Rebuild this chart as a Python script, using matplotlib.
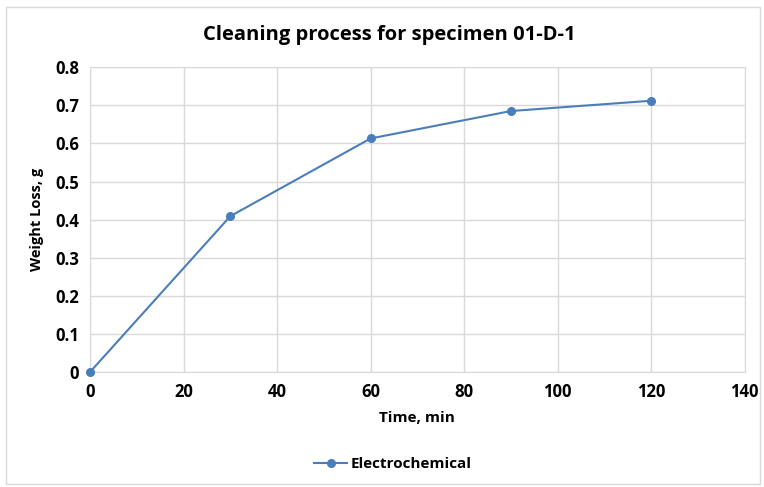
import numpy as np
import matplotlib.pyplot as plt
from matplotlib.patches import Rectangle

plt.rcParams['font.family'] = ['Open Sans', 'DejaVu Sans']
plt.rcParams['font.weight'] = 'bold'

# data
time_min = [0, 30, 60, 90, 120]
weight_loss = [0.0, 0.409, 0.613, 0.685, 0.712]
series_name = "Electrochemical"

fig = plt.figure(figsize=(7.64, 4.87), dpi=100)
ax = fig.add_axes([0.1178, 0.236, 0.857, 0.626])

ax.plot(time_min, weight_loss, color="#4a7ebb", linewidth=1.5,
        marker="o", markersize=5.5, label=series_name, clip_on=False, zorder=3)

ax.set_xlim(0, 140)
ax.set_ylim(0, 0.8)
ax.set_xticks(np.arange(0, 141, 20))
ax.set_yticks(np.arange(0, 0.81, 0.1))
ax.set_yticklabels(["0", "0.1", "0.2", "0.3", "0.4", "0.5", "0.6", "0.7", "0.8"])
ax.grid(True, color="#d9d9d9", linewidth=1)
ax.set_axisbelow(True)
for s in ax.spines.values():
    s.set_color("#d9d9d9")
ax.tick_params(length=0, labelsize=12, pad=8)
for lbl in ax.get_xticklabels() + ax.get_yticklabels():
    lbl.set_fontweight("bold")

ax.set_xlabel("Time, min", fontsize=11, fontweight="bold", labelpad=7)
ax.set_ylabel("Weight Loss, g", fontsize=10.5, fontweight="bold", labelpad=8)
fig.text(0.51, 0.928, "Cleaning process for specimen 01-D-1", ha="center",
         va="center", fontsize=14.5, fontweight="bold")

fig.legend(loc="center", bbox_to_anchor=(0.514, 0.047), frameon=False,
           prop={"size": 11, "weight": "bold"}, handlelength=2.2,
           handletextpad=0.2)

fig.patches.append(Rectangle((0.008, 0.006), 0.987, 0.98, transform=fig.transFigure,
                             fill=False, edgecolor="#d9d9d9", linewidth=1))

fig.savefig("out.png", dpi=100)
